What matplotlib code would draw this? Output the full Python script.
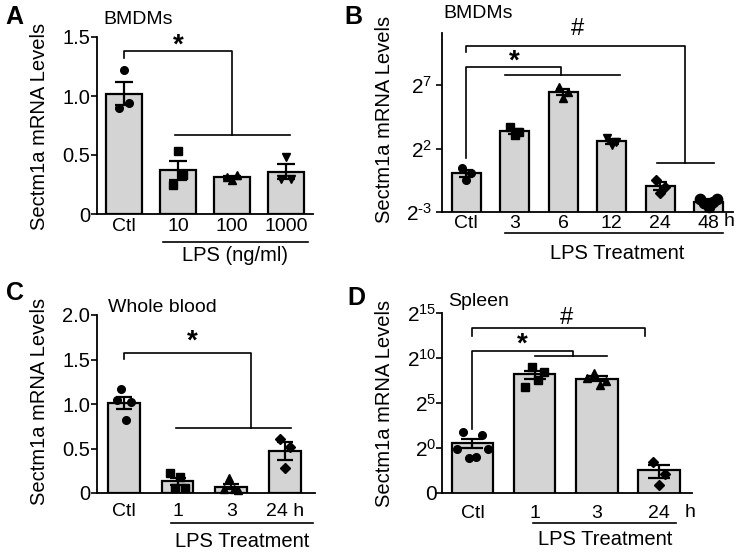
import numpy as np
import matplotlib
matplotlib.use('Agg')
import matplotlib.pyplot as plt
import matplotlib.transforms as mtransforms

plt.rcParams['font.family'] = ['Liberation Sans', 'DejaVu Sans']
plt.rcParams['mathtext.fontset'] = 'custom'
plt.rcParams['mathtext.rm'] = 'Liberation Sans'

W, H = 740, 553

# panel A - BMDMs, LPS dose
a_labels = ['Ctl', '10', '100', '1000']
a_means = [1.02, 0.37, 0.31, 0.36]
a_sems = [0.10, 0.08, 0.01, 0.06]
a_points = [[0.90, 1.22, 0.94], [0.25, 0.53, 0.33], [0.31, 0.29, 0.33], [0.30, 0.48, 0.30]]

# panel B - BMDMs, LPS time course (log2 axis)
b_labels = ['Ctl', '3', '6', '12', '24', '48']
b_means = [1.05, 10.4, 89, 5.9, 0.52, 0.22]
b_sems = [0.19, 1.35, 15, 0.65, 0.11, 0.03]
b_points = [[1.37, 0.72, 1.05], [13, 8.4, 9.8], [115, 62, 90], [7.1, 4.9, 5.7],
            [0.72, 0.35, 0.49], [0.26, 0.20, 0.16, 0.21, 0.25]]

# panel C - whole blood
c_labels = ['Ctl', '1', '3', '24 h']
c_means = [1.01, 0.13, 0.07, 0.47]
c_sems = [0.07, 0.04, 0.03, 0.10]
c_points = [[1.04, 1.17, 0.82, 1.02], [0.22, 0.06, 0.18, 0.06], [0.04, 0.17, 0.04, 0.03], [0.61, 0.28, 0.52]]

# panel D - spleen (log2 axis)
d_labels = ['Ctl', '1', '3', '24']
d_means = [1.49, 288, 208, 0.18]
d_sems = [0.48, 88, 40, 0.08]
d_points = [[0.93, 3.4, 0.46, 0.50, 2.7, 0.93], [111, 512, 188, 340], [222, 315, 128, 169], [0.34, 0.06, 0.14]]

dose_markers = ['o', 's', '^', 'v']
time_markers = ['o', 's', '^', 'v', 'D', 'o']
short_markers = ['o', 's', '^', 'D']


def fx(x):
    return x / W


def fy(y):
    return 1 - y / H


def make_axes(fig, left, top, right, bottom):
    return fig.add_axes([fx(left), fy(bottom), (right - left) / W, (bottom - top) / H])


def draw_bars(ax, means, sems, points, mark, width, capsize, msize=5.5, big=()):
    x = np.arange(len(means))
    ax.bar(x, means, width=width, color='#d4d4d4', edgecolor='black', linewidth=1.6, zorder=1)
    ax.errorbar(x, means, yerr=sems, fmt='none', ecolor='black', elinewidth=1.6,
                capsize=capsize, capthick=1.6, zorder=3)
    for i, pts in enumerate(points):
        n = len(pts)
        s = 0.045 * (n - 1) * width / 0.6
        offs = np.linspace(-s, s, n)
        ms = msize * 1.35 if i in big else msize
        ax.plot(x[i] + offs, pts, linestyle='none', marker=mark[i], color='black',
                markersize=ms, zorder=4, clip_on=False)
    ax.set_xticks(x)


def style(ax, labels, xpad, ylen=4, ypad=1, xsize=14, ysize=14.5):
    for sp in ['top', 'right']:
        ax.spines[sp].set_visible(False)
    for sp in ['left', 'bottom']:
        ax.spines[sp].set_linewidth(1.3)
    ax.set_xticklabels(labels)
    ax.tick_params(axis='x', length=0, pad=xpad, labelsize=xsize)
    ax.tick_params(axis='y', length=ylen, width=1.2, pad=ypad, labelsize=ysize)
    ax.minorticks_off()


def bracket(ax, pts, lw=1.2):
    xs = [p[0] for p in pts]
    ys = [p[1] for p in pts]
    ax.plot(xs, ys, color='black', linewidth=lw, clip_on=False, zorder=5)


def group_line(ax, x0, x1, y, label, ly, lx):
    tr = mtransforms.blended_transform_factory(ax.transData, ax.transAxes)
    ax.plot([x0, x1], [y, y], color='black', linewidth=1.2, transform=tr, clip_on=False)
    ax.text(lx, ly, label, transform=tr, ha='center', va='center', fontsize=14.5)


def pow2(e):
    if e < 0:
        return r'$\mathregular{2^{\text{-}%d}}$' % (-e)
    return r'$\mathregular{2^{%d}}$' % e


fig = plt.figure(figsize=(W / 100, H / 100), dpi=100)

# ---- A ----
ax = make_axes(fig, 97, 37, 313, 214)
draw_bars(ax, a_means, a_sems, a_points, dose_markers, 0.67, 6.8)
ax.set_xlim(-0.5, 3.5)
ax.set_ylim(0, 1.5)
ax.set_yticks([0, 0.5, 1.0, 1.5])
ax.set_yticklabels(['0', '0.5', '1.0', '1.5'])
style(ax, a_labels, xpad=3)
bracket(ax, [(0, 1.32), (0, 1.38), (2.0, 1.38), (2.0, 0.67)])
bracket(ax, [(0.94, 0.67), (3.07, 0.67)])
ax.text(1.0, 1.43, '*', ha='center', va='center', fontsize=20, fontweight='bold')
group_line(ax, 0.72, 3.4, -0.158, 'LPS (ng/ml)', -0.235, 2.05)

# ---- B ----
ax = make_axes(fig, 442, 33, 733, 212)
draw_bars(ax, b_means, b_sems, b_points, time_markers, 0.59, 4.7, big=(5,))
ax.set_yscale('log', base=2)
ax.set_xlim(-0.5, 5.5)
ax.set_ylim(2 ** -3, 2 ** 11.1)
ax.set_yticks([2 ** -3, 2 ** 2, 2 ** 7])
ax.set_yticklabels([pow2(-3), pow2(2), pow2(7)])
style(ax, b_labels, xpad=2, ylen=4, ypad=3, ysize=15)
bracket(ax, [(0, 2 ** 9.6), (0, 2 ** 10.07), (4.52, 2 ** 10.07), (4.52, 2 ** 0.86)])
bracket(ax, [(3.93, 2 ** 0.86), (5.1, 2 ** 0.86)])
bracket(ax, [(0, 2 ** 1.25), (0, 2 ** 8.42), (1.96, 2 ** 8.42), (1.96, 2 ** 7.8)])
bracket(ax, [(0.8, 2 ** 7.8), (3.18, 2 ** 7.8)])
ax.text(2.3, 2 ** 11.4, '#', ha='center', va='center', fontsize=17)
ax.text(1.0, 2 ** 8.85, '*', ha='center', va='center', fontsize=20, fontweight='bold')
tr = mtransforms.blended_transform_factory(ax.transData, ax.transAxes)
ax.text(5.42, -0.055, 'h', transform=tr, ha='center', va='center', fontsize=14)
group_line(ax, 0.8, 5.29, -0.117, 'LPS Treatment', -0.23, 3.12)

# ---- C ----
ax = make_axes(fig, 97, 315, 315, 493)
draw_bars(ax, c_means, c_sems, c_points, short_markers, 0.59, 6.0)
ax.set_xlim(-0.5, 3.56)
ax.set_ylim(0, 2.0)
ax.set_yticks([0, 0.5, 1.0, 1.5, 2.0])
ax.set_yticklabels(['0', '0.5', '1.0', '1.5', '2.0'])
style(ax, c_labels, xpad=7)
bracket(ax, [(0, 1.51), (0, 1.57), (2.37, 1.57), (2.37, 0.73)])
bracket(ax, [(0.97, 0.73), (3.11, 0.73)])
ax.text(1.28, 1.70, '*', ha='center', va='center', fontsize=20, fontweight='bold')
group_line(ax, 0.875, 3.52, -0.169, 'LPS Treatment', -0.27, 2.2)

# ---- D ----
ax = make_axes(fig, 442, 313, 692, 493)
draw_bars(ax, d_means, d_sems, d_points, short_markers, 0.67, 7.8)
ax.set_yscale('log', base=2)
ax.set_xlim(-0.49, 3.53)
ax.set_ylim(2 ** -5, 2 ** 15)
ax.set_yticks([2 ** -5, 2 ** 0, 2 ** 5, 2 ** 10, 2 ** 15])
ax.set_yticklabels(['0', pow2(0), pow2(5), pow2(10), pow2(15)])
style(ax, d_labels, xpad=9, ylen=4, ypad=0, ysize=15)
bracket(ax, [(0, 2 ** 12.44), (0, 2 ** 13.33), (2.77, 2 ** 13.33), (2.77, 2 ** 12.44)])
bracket(ax, [(0, 2 ** 2.1), (0, 2 ** 10.8), (1.62, 2 ** 10.8), (1.62, 2 ** 10.2)])
bracket(ax, [(1.0, 2 ** 10.2), (2.16, 2 ** 10.2)])
ax.text(1.52, 2 ** 14.4, '#', ha='center', va='center', fontsize=17)
ax.text(0.8, 2 ** 11.5, '*', ha='center', va='center', fontsize=20, fontweight='bold')
tr = mtransforms.blended_transform_factory(ax.transData, ax.transAxes)
ax.text(3.5, -0.11, 'h', transform=tr, ha='center', va='center', fontsize=14)
group_line(ax, 0.97, 3.27, -0.167, 'LPS Treatment', -0.256, 2.13)

# figure-level labels
for x, y, s in [(14, 17, 'A'), (353, 17, 'B'), (15, 293, 'C'), (356, 298, 'D')]:
    fig.text(fx(x), fy(y), s, ha='center', va='center', fontsize=18, fontweight='bold')
for x, y, s in [(103, 20, 'BMDMs'), (443, 13, 'BMDMs'), (108, 308, 'Whole blood'), (448, 301, 'Spleen')]:
    fig.text(fx(x), fy(y), s, ha='left', va='center', fontsize=14)
for x, y in [(40, 126), (385, 119), (40, 401), (385, 403)]:
    fig.text(fx(x), fy(y), 'Sectm1a mRNA Levels', rotation=90, ha='center', va='center', fontsize=14.5)

fig.savefig('out.png', dpi=100)
